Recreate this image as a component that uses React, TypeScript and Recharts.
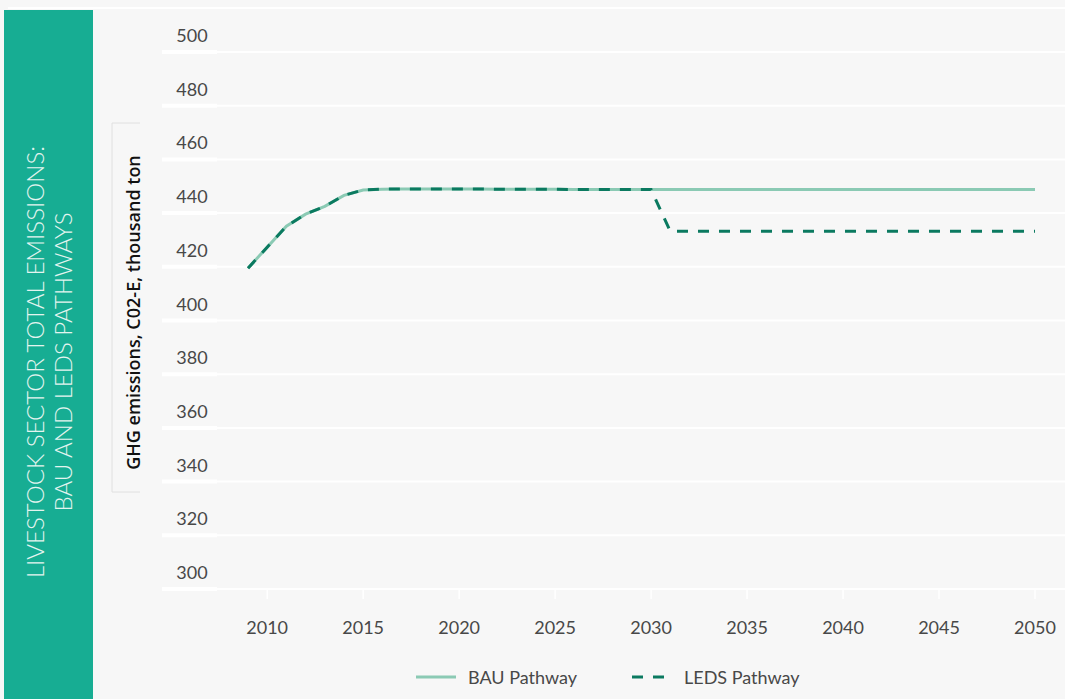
import React from "react";
import { LineChart, Line, XAxis, YAxis, CartesianGrid } from "recharts";

// Livestock sector total emissions, thousand ton CO2-e
const years = [
  2009, 2010, 2011, 2012, 2013, 2014, 2015, 2016, 2017, 2018, 2019, 2020, 2021, 2022,
  2023, 2024, 2025, 2026, 2027, 2028, 2029, 2030, 2031, 2032, 2033, 2034, 2035, 2036,
  2037, 2038, 2039, 2040, 2041, 2042, 2043, 2044, 2045, 2046, 2047, 2048, 2049, 2050,
];

const bauValues = [
  419.5, 427.3, 435.1, 439.6, 442.5, 446.6, 448.6, 448.9, 449.0, 449.0, 449.0, 449.0, 449.0, 448.9,
  448.9, 448.9, 448.9, 448.8, 448.8, 448.8, 448.8, 448.8, 448.8, 448.8, 448.8, 448.8, 448.8, 448.8,
  448.8, 448.8, 448.8, 448.8, 448.8, 448.8, 448.8, 448.8, 448.8, 448.8, 448.8, 448.8, 448.8, 448.8,
];

const ledsValues = [
  419.5, 427.3, 435.1, 439.6, 442.5, 446.6, 448.6, 448.9, 449.0, 449.0, 449.0, 449.0, 449.0, 448.9,
  448.9, 448.9, 448.9, 448.8, 448.8, 448.8, 448.8, 448.8, 433.2, 433.2, 433.2, 433.2, 433.2, 433.2,
  433.2, 433.2, 433.2, 433.2, 433.2, 433.2, 433.2, 433.2, 433.2, 433.2, 433.2, 433.2, 433.2, 433.2,
];

const xTicks = [2010, 2015, 2020, 2025, 2030, 2035, 2040, 2045, 2050];
const yTicks = [300, 320, 340, 360, 380, 400, 420, 440, 460, 480, 500];

const seriesNames = ["BAU Pathway", "LEDS Pathway"];
const titleLines = ["LIVESTOCK SECTOR TOTAL EMISSIONS:", "BAU AND LEDS PATHWAYS"];
const yAxisTitle = "GHG emissions, C02-E, thousand ton";

const BAU_COLOR = "#8bcab4";
const LEDS_COLOR = "#0b7a60";
const PANEL_COLOR = "#17ad93";
const TEXT_COLOR = "#484848";
const DASH = "11 10";

const data = years.map((year, i) => ({
  year,
  bau: bauValues[i],
  leds: ledsValues[i],
}));

const YTick = (props: any) => {
  const { x, y, payload } = props;
  return (
    <g>
      <line x1={x - 55} x2={x} y1={y} y2={y} stroke="#ffffff" strokeWidth={4} />
      <text
        x={x - 25}
        y={y - 10}
        textAnchor="middle"
        fill={TEXT_COLOR}
        fontSize={18}
        fontFamily="Lato"
      >
        {payload.value}
      </text>
    </g>
  );
};

const XTick = (props: any) => {
  const { x, y, payload } = props;
  return (
    <g>
      <line x1={x} x2={x} y1={y} y2={y + 10} stroke="#ffffff" strokeWidth={1.5} />
      <text
        x={x}
        y={y + 45}
        textAnchor="middle"
        fill={TEXT_COLOR}
        fontSize={18}
        fontFamily="Lato"
      >
        {payload.value}
      </text>
    </g>
  );
};

const legendItems = [
  { name: seriesNames[0], color: BAU_COLOR, dash: undefined as string | undefined },
  { name: seriesNames[1], color: LEDS_COLOR, dash: DASH },
];

export default function App() {
  return (
    <div
      style={{
        position: "fixed",
        left: 0,
        top: 0,
        width: 1065,
        height: 699,
        background: "#f7f7f7",
        overflow: "hidden",
        fontFamily: "Lato, sans-serif",
      }}
    >
      {/* thin white rule along the top */}
      <div
        style={{ position: "absolute", left: 8, top: 7, right: 0, height: 2, background: "#ffffff" }}
      />

      {/* title panel */}
      <div
        style={{
          position: "absolute",
          left: 4,
          top: 10,
          width: 89,
          height: 689,
          background: PANEL_COLOR,
        }}
      >
        <svg width={89} height={689}>
          {titleLines.map((line, i) => (
            <text
              key={line}
              transform={`translate(${39.5 + i * 28.4}, 352) rotate(-90)`}
              textAnchor="middle"
              fill="#e3f4ef"
              fontSize={24}
              fontWeight={300}
              fontFamily="Lato"
            >
              {line}
            </text>
          ))}
        </svg>
      </div>

      {/* y-axis title with its bracket */}
      <svg style={{ position: "absolute", left: 0, top: 0 }} width={200} height={699}>
        <path d="M140,123 H112 V492 H140" fill="none" stroke="#e0e0e0" strokeWidth={1} />
        <text
          transform="translate(139.5, 312.5) rotate(-90)"
          textAnchor="middle"
          fill="#111111"
          fontSize={18}
          fontWeight={600}
          fontFamily="Open Sans"
        >
          {yAxisTitle}
        </text>
      </svg>

      <div style={{ position: "absolute", left: 0, top: 0 }}>
        <LineChart
          width={1065}
          height={699}
          data={data}
          margin={{ top: 52, right: 0, bottom: 50, left: 157 }}
        >
          <CartesianGrid vertical={false} stroke="#ffffff" strokeWidth={2} />
          <XAxis
            dataKey="year"
            type="number"
            domain={[2009, 2050]}
            ticks={xTicks}
            interval={0}
            padding={{ left: 31, right: 30 }}
            axisLine={false}
            tickLine={false}
            tickSize={0}
            tickMargin={0}
            height={60}
            tick={<XTick />}
          />
          <YAxis
            type="number"
            domain={[300, 500]}
            ticks={yTicks}
            interval={0}
            width={60}
            axisLine={false}
            tickLine={false}
            tickSize={0}
            tickMargin={0}
            tick={<YTick />}
          />
          <Line
            dataKey="bau"
            name={seriesNames[0]}
            type="linear"
            stroke={BAU_COLOR}
            strokeWidth={3}
            dot={false}
            activeDot={false}
            isAnimationActive={false}
          />
          <Line
            dataKey="leds"
            name={seriesNames[1]}
            type="linear"
            stroke={LEDS_COLOR}
            strokeWidth={3}
            strokeDasharray={DASH}
            dot={false}
            activeDot={false}
            isAnimationActive={false}
          />
        </LineChart>
      </div>

      {/* legend */}
      <div
        style={{
          position: "absolute",
          left: 416,
          top: 666,
          display: "flex",
          alignItems: "center",
          height: 22,
        }}
      >
        {legendItems.map((item) => (
          <div
            key={item.name}
            style={{ width: 216, display: "flex", alignItems: "center", height: 22 }}
          >
            <svg width={40} height={22} style={{ display: "block" }}>
              <line
                x1={0}
                x2={40}
                y1={11}
                y2={11}
                stroke={item.color}
                strokeWidth={3}
                strokeDasharray={item.dash}
              />
            </svg>
            <span
              style={{
                marginLeft: 12,
                fontSize: 18,
                color: TEXT_COLOR,
                fontFamily: "Lato",
                lineHeight: "22px",
                whiteSpace: "nowrap",
              }}
            >
              {item.name}
            </span>
          </div>
        ))}
      </div>
    </div>
  );
}
